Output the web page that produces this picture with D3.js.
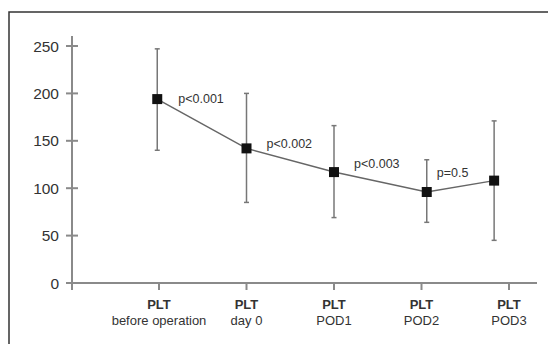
<!DOCTYPE html>
<html><head><meta charset="utf-8">
<script src="https://cdn.jsdelivr.net/npm/d3@7"></script>
<style>body{margin:0;background:#fff;}svg{display:block;font-family:"Liberation Sans",Arial,sans-serif;}</style>
</head><body>
<script>
const categories = ["before operation", "day 0", "POD1", "POD2", "POD3"];
const categoryPrefix = "PLT";
// horizontal position of each point, in category units
const pointPositions = [-0.02, 0, 0, 0.06, -0.17];
const means = [194, 142, 117, 96, 108];
const upper = [247, 200, 166, 130, 171];
const lower = [140, 85, 69, 64, 45];
const pLabels = ["p<0.001", "p<0.002", "p<0.003", "p=0.5"];
const yTicks = [0, 50, 100, 150, 200, 250];

const W = 548, H = 344;
const svg = d3.select("body").append("svg").attr("width", W).attr("height", H);

// frame
svg.append("rect").attr("x", 9).attr("y", 12).attr("width", W + 20).attr("height", H + 20)
  .attr("fill", "none").attr("stroke", "#333").attr("stroke-width", 1.5);

const x = d3.scaleLinear().domain([0, 4]).range([159, 509]);
const y = d3.scaleLinear().domain([0, 250]).range([283, 46]);
const axisColor = "#8a8a8a";

// y axis
const yAxisG = svg.append("g");
yAxisG.append("line").attr("x1", 72).attr("x2", 72).attr("y1", 36).attr("y2", 290)
  .attr("stroke", axisColor).attr("stroke-width", 2);
yAxisG.selectAll("line.t").data(yTicks).join("line").attr("class", "t")
  .attr("x1", 66).attr("x2", 78).attr("y1", d => y(d)).attr("y2", d => y(d))
  .attr("stroke", axisColor).attr("stroke-width", 2);
yAxisG.selectAll("text").data(yTicks).join("text")
  .attr("x", 59).attr("y", d => y(d)).attr("dy", "0.36em").attr("text-anchor", "end")
  .attr("font-size", 15.5).attr("fill", "#333").text(d => d);

// x axis
svg.append("line").attr("x1", 66).attr("x2", 537).attr("y1", y(0)).attr("y2", y(0))
  .attr("stroke", axisColor).attr("stroke-width", 2);
const xg = svg.append("g");
xg.selectAll("line").data(categories).join("line")
  .attr("x1", (d, i) => x(i)).attr("x2", (d, i) => x(i))
  .attr("y1", y(0)).attr("y2", y(0) + 7).attr("stroke", axisColor).attr("stroke-width", 2);
const lbl = xg.selectAll("text").data(categories).join("text")
  .attr("text-anchor", "middle").attr("font-size", 13).attr("fill", "#333");
lbl.append("tspan").attr("x", (d, i) => x(i)).attr("y", 309).attr("font-weight", "bold").text(categoryPrefix);
lbl.append("tspan").attr("x", (d, i) => x(i)).attr("y", 325).text(d => d);

const px = i => x(i + pointPositions[i]);

// connecting line
svg.append("path").datum(means)
  .attr("d", d3.line().x((d, i) => px(i)).y(d => y(d)))
  .attr("fill", "none").attr("stroke", "#666").attr("stroke-width", 1.5);

// error bars
const eb = svg.append("g").attr("stroke", "#777").attr("stroke-width", 1.5);
means.forEach((m, i) => {
  eb.append("line").attr("x1", px(i)).attr("x2", px(i)).attr("y1", y(upper[i])).attr("y2", y(lower[i]));
  eb.append("line").attr("x1", px(i) - 2.5).attr("x2", px(i) + 2.5).attr("y1", y(upper[i])).attr("y2", y(upper[i]));
  eb.append("line").attr("x1", px(i) - 2.5).attr("x2", px(i) + 2.5).attr("y1", y(lower[i])).attr("y2", y(lower[i]));
});

// markers
const s = 10;
svg.selectAll("rect.m").data(means).join("rect").attr("class", "m")
  .attr("x", (d, i) => px(i) - s / 2).attr("y", d => y(d) - s / 2)
  .attr("width", s).attr("height", s).attr("fill", "#111");

// p labels between consecutive points (layout offsets relative to the left point)
const pDx = [21, 20, 20, 10];
const pDy = [0, -5, -8, -19];
svg.selectAll("text.p").data(pLabels).join("text").attr("class", "p")
  .attr("x", (d, i) => px(i) + pDx[i])
  .attr("y", (d, i) => y(means[i]) + pDy[i]).attr("dy", "0.35em")
  .attr("font-size", 12.5).attr("fill", "#333").text(d => d);
</script>
</body></html>
